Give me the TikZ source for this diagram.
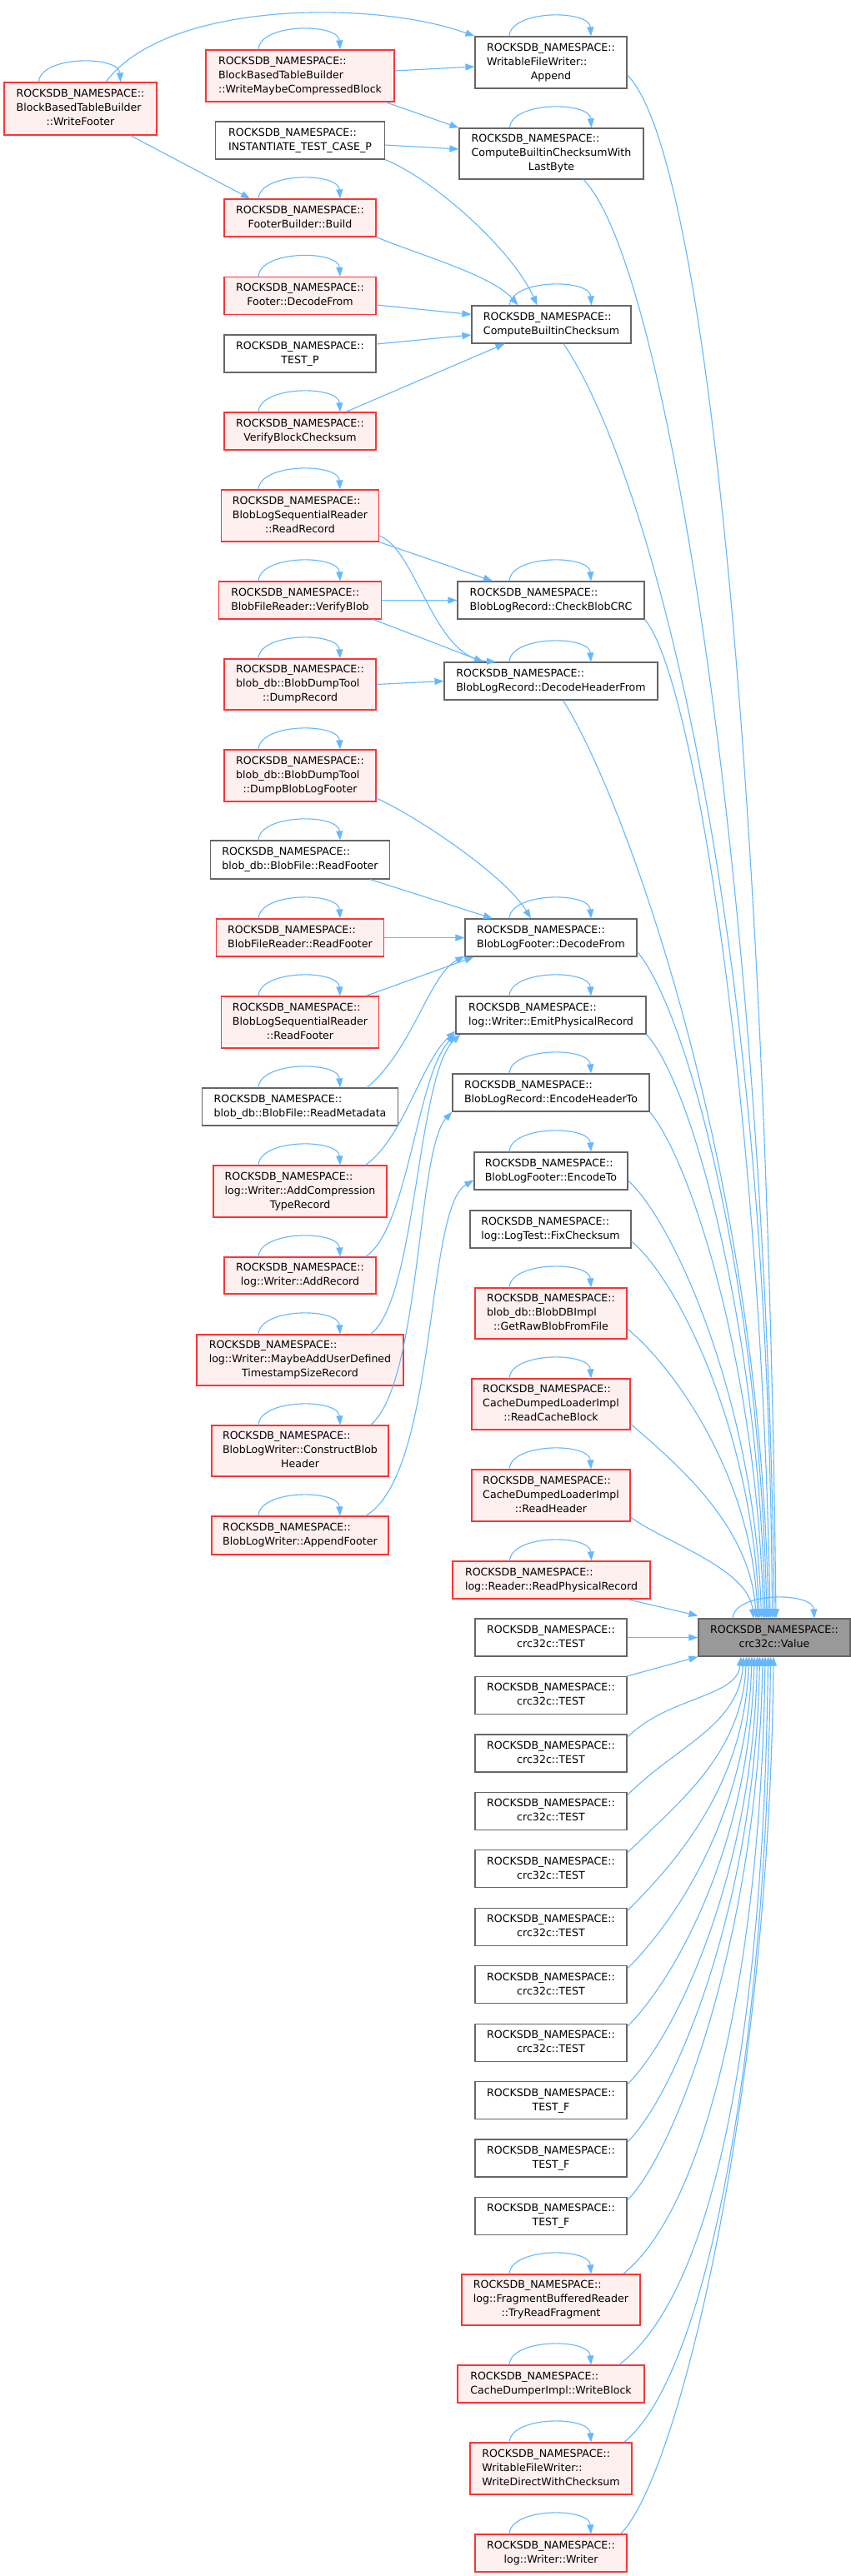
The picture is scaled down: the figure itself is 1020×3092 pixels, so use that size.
\documentclass[tikz,border=0pt]{standalone}
\usepackage{fontspec}
\setmainfont{DejaVu Sans}
\usetikzlibrary{arrows.meta}
\definecolor{edgec}{HTML}{63B8FF}
\definecolor{redb}{HTML}{FF3333}
\definecolor{redf}{HTML}{FFF0F0}
\definecolor{grayb}{HTML}{666666}
\definecolor{grayf}{HTML}{999999}
\newcommand\twol[2]{\begin{tabular}{@{}l@{}}#1\\\multicolumn{1}{@{}c@{}}{#2}\end{tabular}}
\newcommand\thrl[3]{\begin{tabular}{@{}l@{}}#1\\#2\\\multicolumn{1}{@{}c@{}}{#3}\end{tabular}}
\newcommand\RN{ROCKSDB\_NAMESPACE::}
\newcommand\sloop[1]{\draw[cline] ([xshift=-50pt]#1.north) .. controls ([xshift=-48pt,yshift=32pt]#1.north) and ([xshift=46pt,yshift=32pt]#1.north) .. ([xshift=48pt]#1.north);}
\begin{document}
\begin{tikzpicture}[x=1pt,y=-1pt,
 box/.style={draw, rectangle, inner sep=0pt, line width=1.2pt, font=\fontsize{12.6}{17}\selectfont},
 nbox/.style={box, draw=grayb, fill=white},
 rbox/.style={box, draw=redb, fill=redf},
 gbox/.style={box, draw=grayb, fill=grayf},
 sz/.style 2 args={minimum width=#1pt, minimum height=#2pt},
 cline/.style={draw=edgec, line width=1.1pt, -{Triangle[length=11pt,width=8pt]}}]
\fill[white] (0,0) rectangle (1020,3092);
\useasboundingbox (0,0) rectangle (1020,3092);

% column 0
\node[rbox,sz={183}{63}] (wf) at (96.5,130.5) {\thrl{\RN}{BlockBasedTableBuilder}{::WriteFooter}};
% column 1
\node[rbox,sz={226}{62}] (wmcb) at (360,91) {\thrl{\RN}{BlockBasedTableBuilder}{::WriteMaybeCompressedBlock}};
\node[nbox,sz={203}{45}] (itcp) at (360,168.5) {\twol{\RN}{INSTANTIATE\_TEST\_CASE\_P}};
\node[rbox,sz={182}{45}] (fbb) at (360,261.5) {\twol{\RN}{FooterBuilder::Build}};
\node[rbox,sz={182}{45}] (fdf) at (360,355) {\twol{\RN}{Footer::DecodeFrom}};
\node[nbox,sz={182}{45}] (testp) at (360,424.5) {\twol{\RN}{TEST\_P}};
\node[rbox,sz={182}{45}] (vbc) at (360,517.5) {\twol{\RN}{VerifyBlockChecksum}};
\node[rbox,sz={189}{62}] (rr) at (360,619) {\thrl{\RN}{BlobLogSequentialReader}{::ReadRecord}};
\node[rbox,sz={195}{45}] (vb) at (360,720.5) {\twol{\RN}{BlobFileReader::VerifyBlob}};
\node[rbox,sz={182}{61}] (dr) at (360,821.5) {\thrl{\RN}{blob\_db::BlobDumpTool}{::DumpRecord}};
\node[rbox,sz={182}{62}] (dblf) at (360,931) {\thrl{\RN}{blob\_db::BlobDumpTool}{::DumpBlobLogFooter}};
\node[nbox,sz={215}{46}] (bfrf) at (360,1032) {\twol{\RN}{blob\_db::BlobFile::ReadFooter}};
\node[rbox,sz={201}{45}] (bfrrf) at (360,1125.5) {\twol{\RN}{BlobFileReader::ReadFooter}};
\node[rbox,sz={189}{62}] (srf) at (360,1227) {\thrl{\RN}{BlobLogSequentialReader}{::ReadFooter}};
\node[nbox,sz={235}{45}] (rm) at (360,1328.5) {\twol{\RN}{blob\_db::BlobFile::ReadMetadata}};
\node[rbox,sz={208}{62}] (actr) at (360,1430) {\thrl{\RN}{log::Writer::AddCompression}{TypeRecord}};
\node[rbox,sz={182}{44}] (ar) at (360,1531) {\twol{\RN}{log::Writer::AddRecord}};
\node[rbox,sz={248}{61}] (mau) at (360,1632.5) {\thrl{\RN}{log::Writer::MaybeAddUserDefined}{TimestampSizeRecord}};
\node[rbox,sz={212}{61}] (cbh) at (360,1741.5) {\thrl{\RN}{BlobLogWriter::ConstructBlob}{Header}};
\node[rbox,sz={212}{46}] (af) at (360,1843) {\twol{\RN}{BlobLogWriter::AppendFooter}};
% column 2
\node[nbox,sz={182}{62}] (app) at (661,75) {\thrl{\RN}{WritableFileWriter::}{Append}};
\node[nbox,sz={221}{61}] (cbcl) at (661.5,184.5) {\thrl{\RN}{ComputeBuiltinChecksumWith}{LastByte}};
\node[nbox,sz={191}{45}] (cbc) at (661.5,389.5) {\twol{\RN}{ComputeBuiltinChecksum}};
\node[nbox,sz={224}{45}] (cbcrc) at (661,720.5) {\twol{\RN}{BlobLogRecord::CheckBlobCRC}};
\node[nbox,sz={256}{45}] (dhf) at (661,817.5) {\twol{\RN}{BlobLogRecord::DecodeHeaderFrom}};
\node[nbox,sz={206}{45}] (bldf) at (661,1125.5) {\twol{\RN}{BlobLogFooter::DecodeFrom}};
\node[nbox,sz={228}{45}] (epr) at (661,1218.5) {\twol{\RN}{log::Writer::EmitPhysicalRecord}};
\node[nbox,sz={236}{45}] (eht) at (661,1311.5) {\twol{\RN}{BlobLogRecord::EncodeHeaderTo}};
\node[nbox,sz={184}{45}] (et) at (661,1405.5) {\twol{\RN}{BlobLogFooter::EncodeTo}};
\node[nbox,sz={193}{45}] (fc) at (660.5,1475.5) {\twol{\RN}{log::LogTest::FixChecksum}};
\node[rbox,sz={182}{61}] (grb) at (661,1576.5) {\thrl{\RN}{blob\_db::BlobDBImpl}{::GetRawBlobFromFile}};
\node[rbox,sz={190}{61}] (rcb) at (661,1685.5) {\thrl{\RN}{CacheDumpedLoaderImpl}{::ReadCacheBlock}};
\node[rbox,sz={190}{62}] (rh) at (661,1795) {\thrl{\RN}{CacheDumpedLoaderImpl}{::ReadHeader}};
\node[rbox,sz={237}{45}] (rpr) at (661.5,1896.5) {\twol{\RN}{log::Reader::ReadPhysicalRecord}};
\foreach \i in {1,...,8}
  \node[nbox,sz={182}{45}] (t\i) at (661,{1965.5+69.45*(\i-1)}) {\twol{\RN}{crc32c::TEST}};
\foreach \i in {1,2,3}
  \node[nbox,sz={182}{45}] (tf\i) at (661,{1965.5+69.45*(\i+7)}) {\twol{\RN}{TEST\_F}};
\node[rbox,sz={214}{61}] (trf) at (661,2760.5) {\thrl{\RN}{log::FragmentBufferedReader}{::TryReadFragment}};
\node[rbox,sz={224}{45}] (wb) at (661,2861.5) {\twol{\RN}{CacheDumperImpl::WriteBlock}};
\node[rbox,sz={194}{62}] (wdc) at (661,2963) {\thrl{\RN}{WritableFileWriter::}{WriteDirectWithChecksum}};
\node[rbox,sz={182}{45}] (ww) at (661,3064.5) {\twol{\RN}{log::Writer::Writer}};
% column 3
\node[gbox,sz={182}{45}] (v) at (929,1965.5) {\twol{\RN}{crc32c::Value}};

% self loops
\foreach \n in {wf,wmcb,app,cbcl,fbb,cbc,fdf,vbc,rr,vb,cbcrc,dr,dhf,dblf,bfrf,bfrrf,bldf,srf,epr,rm,eht,actr,et,ar,grb,mau,rcb,cbh,rh,af,rpr,v,trf,wb,wdc,ww}
  {\sloop{\n}}

% left part
\draw[cline] ([xshift=30.5pt]wf.north) .. controls (200,0) and (450,0) .. (app.north west);
\draw[cline] ([xshift=60pt]wf.south) -- ([xshift=-60pt]fbb.north);
\draw[cline] ([yshift=6pt]wmcb.east) -- ([yshift=-5pt]app.west);
\draw[cline] ([xshift=-11pt]wmcb.south east) -- (cbcl.north west);
\draw[cline] ([yshift=-5.5pt]itcp.east) -- ([yshift=5.5pt]cbcl.west);
\draw[cline] (itcp.south east) .. controls (520,215) and (615,300) .. ([xshift=-17pt]cbc.north);
\draw[cline] (fbb.south east) .. controls (500,305) and (590,330) .. ([xshift=-40pt]cbc.north);
\draw[cline] ([yshift=-11pt]fdf.east) -- ([yshift=12pt]cbc.west);
\draw[cline] ([yshift=11.5pt]testp.east) -- ([yshift=-12.5pt]cbc.west);
\draw[cline] ([xshift=55pt]vbc.north) -- ([xshift=-56pt]cbc.south);
\draw[cline] (rr.south east) -- ([xshift=-70pt]cbcrc.north);
\draw[cline] ([yshift=-24pt]rr.east) .. controls (500,660) and (520,790) .. ([xshift=-66pt]dhf.north);
\draw[cline] (vb.east) -- (cbcrc.west);
\draw[cline] ([xshift=-10pt]vb.south east) -- ([xshift=-81pt]dhf.north);
\draw[cline] (dr.east) -- (dhf.west);
\draw[cline] ([yshift=-27pt]dblf.east) .. controls (500,980) and (605,1050) .. ([xshift=-24pt]bldf.north);
\draw[cline] ([xshift=-24pt]bfrf.south east) -- ([xshift=-70pt]bldf.north);
\draw[cline] (bfrrf.east) -- (bldf.west);
\draw[cline] ([xshift=-16pt]srf.north east) -- ([xshift=11pt]bldf.south west);
\draw[cline] ([xshift=-38pt]rm.north east) .. controls (495,1260) and (515,1170) .. ([yshift=1pt]bldf.south west);
\draw[cline] ([xshift=-26pt]actr.north east) .. controls (485,1365) and (505,1275) .. ([yshift=4pt]epr.south west);
\draw[cline] ([xshift=-13pt]ar.north east) .. controls (490,1475) and (500,1290) .. (epr.south west);
\draw[cline] ([xshift=-40pt]mau.north east) .. controls (500,1560) and (500,1290) .. ([xshift=6pt]epr.south west);
\draw[cline] ([xshift=-22pt]cbh.north east) .. controls (505,1660) and (500,1380) .. (eht.south west);
\draw[cline] ([xshift=-28pt]af.north east) .. controls (525,1770) and (510,1450) .. ([yshift=-11pt]et.west);

% upper edges to Value
\draw[cline] ([yshift=-15pt]app.east) .. controls +(100,100) and +(-10,-926) .. ([xshift=2pt]v.north);
\draw[cline] ([xshift=38.5pt]cbcl.south) .. controls +(100,100) and +(-10,-864) .. (v.north);
\draw[cline] ([xshift=14.5pt]cbc.south) .. controls +(90,130) and +(-5,-900) .. ([xshift=-2.5pt]v.north);
\draw[cline] (cbcrc.south east) .. controls +(60,70) and +(-10,-600) .. ([xshift=-5pt]v.north);
\draw[cline] ([xshift=14.5pt]dhf.south) .. controls +(70,110) and +(-10,-550) .. ([xshift=-7pt]v.north);
\draw[cline] ([yshift=-17pt]bldf.east) .. controls +(60,70) and +(-8,-400) .. ([xshift=-9pt]v.north);
\draw[cline] (epr.south east) .. controls +(55,60) and +(-8,-350) .. ([xshift=-11pt]v.north);
\draw[cline] (eht.south east) .. controls +(50,60) and +(-8,-300) .. ([xshift=-13pt]v.north);
\draw[cline] ([yshift=-11.5pt]et.east) .. controls +(55,50) and +(-8,-260) .. ([xshift=-15.5pt]v.north);
\draw[cline] ([yshift=-14.5pt]fc.east) .. controls +(55,45) and +(-8,-225) .. ([xshift=-18pt]v.north);
\draw[cline] ([yshift=-18.5pt]grb.east) .. controls +(50,40) and +(-6,-175) .. ([xshift=-20pt]v.north);
\draw[cline] ([yshift=-23.5pt]rcb.east) .. controls +(45,40) and +(-6,-115) .. ([xshift=-22pt]v.north);
\draw[cline] ([yshift=-26pt]rh.east) .. controls +(40,30) and +(-6,-60) .. ([xshift=-25pt]v.north);
\draw[cline] ([xshift=-28pt]rpr.south east) -- ([yshift=3pt]v.north west);
\draw[cline] (t1.east) -- (v.west);
\draw[cline] (t2.north east) -- (v.south west);

% lower edges to Value
\foreach \n/\xs/\c/\h in {t3/-40/49/49, t4/-37/60/83, t5/-33.5/60/118, t6/-30.5/60/153, t7/-27/60/187, t8/-24/60/222, tf1/-20.5/60/257, tf2/-17.5/60/291, tf3/-14/60/326}
  {\draw[cline] ([yshift=-4pt]\n.north east) .. controls +(\c,-\c) and +(-5,\h) .. ([xshift=\xs pt]v.south);}
\draw[cline] ([xshift=-21pt]trf.north east) .. controls +(100,-80) and +(-5,371) .. ([xshift=-11pt]v.south);
\draw[cline] ([xshift=-31pt]wb.north east) .. controls +(120,-90) and +(-5,425) .. ([xshift=-7.5pt]v.south);
\draw[cline] ([xshift=-10pt]wdc.north east) .. controls +(100,-80) and +(-5,472) .. ([xshift=-4.5pt]v.south);
\draw[cline] ([xshift=-8pt]ww.north east) .. controls +(70,-70) and +(-5,527) .. ([xshift=-1pt]v.south);
\end{tikzpicture}
\end{document}
